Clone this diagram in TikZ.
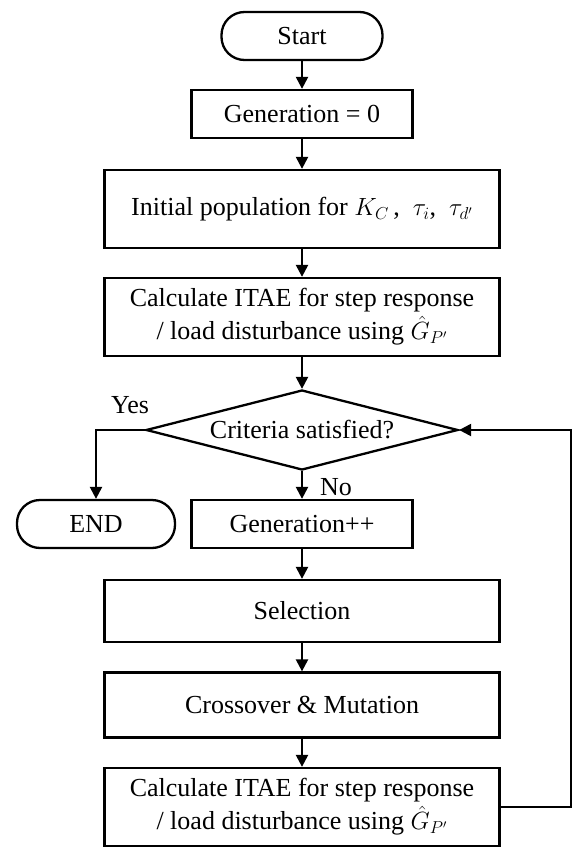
\documentclass[tikz,border=0pt]{standalone}
\usepackage{fontspec}
\setmainfont{Liberation Serif}
\usetikzlibrary{shapes.geometric,arrows.meta}
\begin{document}
\begin{tikzpicture}[x=1pt,y=-1pt,
  every node/.style={font=\fontsize{26}{33}\selectfont, inner sep=0pt},
  box/.style={draw, line width=2.3pt, align=center},
  term/.style={draw, line width=2.3pt, rounded corners=23pt},
  dec/.style={draw, line width=2.3pt, diamond, shape aspect=3.9},
  arr/.style={line width=2.3pt, -{Triangle[length=12pt,width=12pt]}},
  lbl/.style={font=\fontsize{26}{30}\selectfont}]
\fill[white] (0,0) rectangle (572,848);
\useasboundingbox (0,0) rectangle (572,848);

\node[term, minimum width=161pt, minimum height=48pt] (start) at (302,36) {Start};
\node[box, minimum width=221pt, minimum height=48pt] (gen0) at (302,114) {Generation = 0};
\node[box, minimum width=395pt, minimum height=78pt] (init) at (302,209) {Initial population for $K_C$\,,\ \ $\tau_i$,\ \ $\tau_{d'}$};
\node[box, minimum width=395pt, minimum height=78pt] (calc1) at (302,317) {Calculate ITAE for step response\\ / load disturbance using {${\hat{G}}_{P'}$}};
\node[dec, minimum width=312pt, minimum height=80pt] (crit) at (302,430) {Criteria satisfied?};
\node[term, minimum width=158pt, minimum height=48pt] (end) at (96,524) {END};
\node[box, minimum width=221pt, minimum height=48pt] (genpp) at (302,524) {Generation++};
\node[box, minimum width=395pt, minimum height=62pt] (sel) at (302,611) {Selection};
\node[box, minimum width=395pt, minimum height=65pt] (cross) at (302,705) {Crossover \& Mutation};
\node[box, minimum width=395pt, minimum height=78pt] (calc2) at (302,807) {Calculate ITAE for step response\\ / load disturbance using {${\hat{G}}_{P'}$}};

\node[lbl] (yes) at (130,405) {Yes};
\node[lbl] (no) at (336,487) {No};

\coordinate (yescorner) at (96,430);
\coordinate (fb1) at (571,807);
\coordinate (fb2) at (571,430);

\draw[arr] (start) -- (gen0);
\draw[arr] (gen0) -- (init);
\draw[arr] (init) -- (calc1);
\draw[arr] (calc1) -- (crit);
\draw[arr] (crit) -- (genpp);
\draw[arr] (crit.west) -- (yescorner) -- (end.north);
\draw[arr] (genpp) -- (sel);
\draw[arr] (sel) -- (cross);
\draw[arr] (cross) -- (calc2);
\draw[arr] (calc2.east) -- (fb1) -- (fb2) -- (crit.east);
\end{tikzpicture}
\end{document}
